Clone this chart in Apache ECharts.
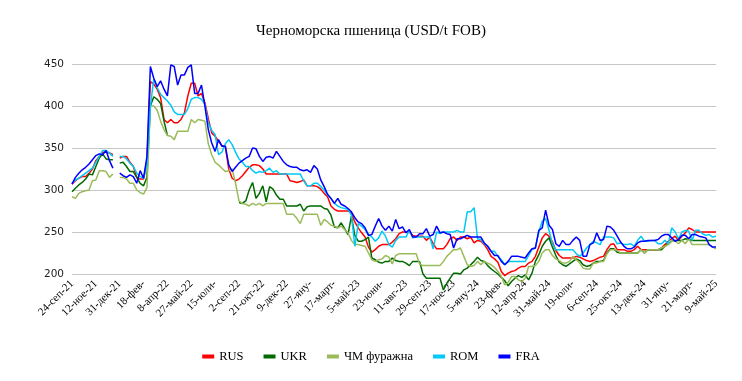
<!DOCTYPE html>
<html><head><meta charset="utf-8">
<script src="https://cdn.jsdelivr.net/npm/echarts@6/dist/echarts.min.js"></script>
<style>html,body{margin:0;padding:0;background:#fff}#c{width:742px;height:381px}</style>
</head><body><div id="c"></div>
<script>
const tickLabels = ["24-сеп-21","12-ное-21","31-дек-21","18-фев-","8-апр-22","27-май-22","15-юли-","2-сеп-22","21-окт-22","9-дек-22","27-яну-","17-март-","5-май-23","23-юни-","11-авг-23","29-сеп-23","17-ное-23","5-яну-24","23-фев-","12-апр-24","31-май-24","19-юли-","6-сеп-24","25-окт-24","13-дек-24","31-яну-","21-март-","9-май-25"];
const seriesNames = ["RUS","UKR","ЧМ фуражна","ROM","FRA"];
const N = 190;
const _ = null;
const RUS = [307,311,314,316,316,320,325,335,340,345,345,344,342,_,
338,340,340,333,328,315,313,313,335,
429,426,420,410,384,380,384,380,380,384,392,412,427,427,412,
415,404,385,368,364,358,353,352,325,314,
311,313,317,322,327,330,330,329,325,319,
319,319,319,319,319,319,311,310,309,310,
312,305,305,305,304,301,296,292,281,277,
275,275,275,275,273,262,255,249,244,232,
226,229,233,235,235,235,238,242,248,250,
250,250,246,245,245,245,240,244,236,230,
230,230,235,242,244,240,244,244,242,244,
237,240,239,235,229,221,218,214,203,198,
201,203,204,207,209,209,213,215,221,232,
243,248,245,238,228,222,219,219,219,219,
221,220,218,216,215,216,218,220,221,229,
235,236,229,229,229,227,227,229,233,229,
229,229,229,229,229,231,235,239,242,245,
240,245,249,255,253,250,250,250,250,250,
250,250];
const UKR = [298,302,306,309,313,319,318,328,338,343,337,336,336,_,
332,333,328,322,322,315,308,305,315,
400,411,408,403,382,365,
_,_,_,_,_,_,_,_,_,_,_,_,_,_,_,_,_,_,_,_,
285,284,287,300,309,290,296,305,286,
304,301,294,289,289,281,281,281,281,283,
275,280,281,281,281,281,278,277,270,256,
255,261,254,247,269,246,239,239,241,244,
219,217,214,213,215,215,219,216,215,215,
213,210,215,215,215,200,195,195,195,195,
195,181,189,195,201,201,200,205,207,211,
215,220,216,215,210,206,203,200,196,192,
186,191,195,198,196,199,193,201,215,223,
233,239,243,232,222,214,211,209,212,215,
218,216,211,209,210,213,215,215,216,225,
230,230,226,225,225,225,225,225,225,229,
225,229,229,229,229,229,233,236,239,240,
240,240,242,241,240,240,240,240,240,240,
240,240];
const CHM = [292,290,296,298,299,300,311,312,323,323,322,315,319,_,
315,315,313,308,308,300,297,295,303,
400,400,395,382,372,365,364,360,370,370,370,370,384,380,384,
383,382,355,342,333,330,326,322,323,325,
308,287,284,283,281,284,282,284,281,284,
284,284,284,284,284,271,271,271,266,260,
271,271,271,271,271,258,265,262,258,257,
255,257,253,249,240,235,235,234,233,225,
217,215,217,218,222,220,212,222,224,224,
224,224,224,224,212,210,210,210,210,210,
210,215,221,225,229,229,231,221,211,209,
210,215,211,215,213,211,208,203,197,187,
190,197,197,193,191,195,209,209,210,215,
225,229,229,222,218,216,213,213,215,221,
217,213,207,206,206,213,213,215,215,224,
229,229,228,225,225,225,225,225,225,229,
225,229,229,229,229,231,233,235,239,239,
236,240,236,242,235,235,235,235,235,235,
232,230];
const ROM = [308,312,314,317,320,323,326,333,340,347,347,344,340,_,
340,340,337,332,328,320,316,314,330,
400,432,422,414,410,406,401,393,390,390,390,397,408,410,410,
408,402,380,371,366,342,345,355,360,354,
345,337,333,328,328,323,320,322,321,323,
326,321,323,319,319,319,319,319,319,319,
311,305,305,308,308,304,300,294,290,284,
281,279,278,277,270,233,260,257,253,247,
244,239,243,251,245,235,232,240,244,244,
244,252,243,244,244,244,244,244,230,250,
248,250,250,250,250,252,250,250,274,274,
279,242,241,236,233,227,227,221,217,211,
215,215,215,215,215,215,222,229,231,250,
263,266,252,236,229,229,229,229,229,229,
224,221,225,231,235,239,237,235,244,244,
244,243,236,237,235,235,236,233,240,245,
239,239,240,240,236,236,240,236,255,250,
242,250,252,251,240,252,252,248,246,247,
244,245];
const FRA = [307,315,320,324,327,331,336,341,343,342,347,335,326,_,
320,317,315,318,316,308,323,314,340,
447,433,423,430,420,412,449,447,425,437,437,446,449,415,415,
425,400,372,356,346,360,352,352,330,322,
327,332,335,338,340,350,349,340,334,339,
340,338,346,340,334,330,328,327,327,324,
323,324,321,329,325,312,304,295,290,284,
290,283,281,278,274,267,262,260,255,246,
247,257,266,257,252,257,251,265,254,256,
249,253,244,244,248,248,254,245,247,257,
249,250,248,247,231,242,242,244,246,244,
244,244,244,237,233,227,222,222,215,211,
215,221,221,221,220,219,225,230,231,252,
255,276,258,253,236,233,240,235,235,240,
244,240,221,221,235,237,249,240,241,257,
256,252,245,238,233,230,230,232,237,239,
239,240,240,240,241,245,247,247,243,239,
241,246,246,242,247,247,245,244,243,235,
232,232];
const colors = ["#FF0000","#006A00","#9BBB59","#00C8F8","#0000FF"];

// weekly categories starting 24-Sep-2021
const months = ["яну","фев","март","апр","май","юни","юли","авг","сеп","окт","ное","дек"];
const categories = [];
{ const d0 = new Date(Date.UTC(2021,8,24));
  for (let i=0;i<N;i++){ const d=new Date(d0.getTime()+i*7*86400000);
    categories.push(d.getUTCDate()+"-"+months[d.getUTCMonth()]+"-"+String(d.getUTCFullYear()).slice(2)); } }

const data = [RUS,UKR,CHM,ROM,FRA];
const chart = echarts.init(document.getElementById('c'));
chart.setOption({
  animation:false,
  backgroundColor:'#fff',
  title:{text:'Черноморска пшеница (USD/t FOB)',left:'center',top:19,
    textStyle:{fontFamily:'Liberation Serif',fontSize:15,fontWeight:'normal',color:'#000'}},
  legend:{bottom:13,left:'center',itemWidth:12,itemHeight:4,itemGap:20,icon:'rect',
    textStyle:{fontFamily:'Liberation Serif',fontSize:12.5,color:'#000'},
    data:seriesNames},
  grid:{left:72,right:26,top:64,bottom:107},
  xAxis:{type:'category',data:categories,boundaryGap:false,
    axisLine:{show:false},axisTick:{show:false},
    axisLabel:{interval:6,rotate:45,margin:8,fontFamily:'Liberation Serif',fontSize:11,color:'#000',
      formatter:(v,idx)=> idx%7===0 ? tickLabels[idx/7] : ''},
    splitLine:{show:false}},
  yAxis:{type:'value',min:200,max:450,interval:50,
    axisLine:{show:false},axisTick:{show:false},
    axisLabel:{fontFamily:'DejaVu Sans',fontSize:10.5,color:'#222',margin:8},
    splitLine:{lineStyle:{color:'#C6C6C6',width:1}}},
  series:data.map((d,k)=>({name:seriesNames[k],type:'line',data:d,symbol:'none',clip:false,
    connectNulls:false,lineStyle:{width:1.5,color:colors[k]},itemStyle:{color:colors[k]}}))
});
</script></body></html>
